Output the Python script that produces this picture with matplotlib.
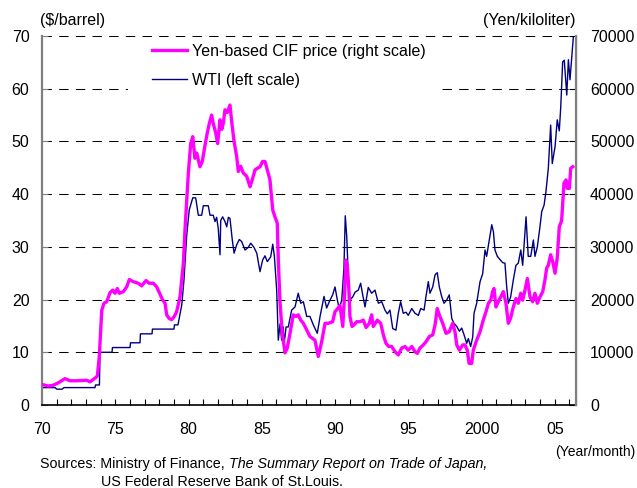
import numpy as np
import matplotlib.pyplot as plt
from matplotlib.patches import Rectangle

plt.rcParams['font.family'] = ['Liberation Sans', 'DejaVu Sans']

# WTI, $/barrel (left scale)
wti_t = [1970.0, 1970.89, 1971.02, 1971.37, 1971.5, 1973.62, 1973.65, 1973.92, 1973.96, 1974.78,
         1974.81, 1976.01, 1976.04, 1976.69, 1976.72, 1977.51, 1977.54, 1979.01, 1979.04, 1979.28,
         1979.54, 1979.69, 1979.88, 1980.05, 1980.29, 1980.49, 1980.67, 1980.9, 1981.01, 1981.35,
         1981.47, 1981.69, 1981.81, 1981.92, 1982.03, 1982.15, 1982.2, 1982.33, 1982.49, 1982.61,
         1982.72, 1982.83, 1982.99, 1983.11, 1983.29, 1983.47, 1983.63, 1983.86, 1984.08, 1984.25,
         1984.47, 1984.66, 1984.88, 1985.06, 1985.22, 1985.38, 1985.61, 1985.75, 1985.86, 1986.02,
         1986.13, 1986.25, 1986.36, 1986.47, 1986.52, 1986.66, 1986.81, 1987.04, 1987.27, 1987.49,
         1987.66, 1987.84, 1988.07, 1988.29, 1988.52, 1988.79, 1988.98, 1989.25, 1989.43, 1989.61,
         1989.84, 1990.0, 1990.16, 1990.29, 1990.46, 1990.61, 1990.7, 1990.8, 1990.91, 1991.02,
         1991.21, 1991.37, 1991.59, 1991.75, 1991.89, 1992.05, 1992.27, 1992.5, 1992.73, 1992.96,
         1993.19, 1993.41, 1993.57, 1993.75, 1993.94, 1994.16, 1994.32, 1994.48, 1994.66, 1994.85,
         1995.0, 1995.24, 1995.46, 1995.69, 1995.85, 1996.08, 1996.21, 1996.37, 1996.48, 1996.67,
         1996.83, 1996.98, 1997.12, 1997.28, 1997.44, 1997.62, 1997.8, 1997.97, 1998.12, 1998.31,
         1998.49, 1998.65, 1998.81, 1998.99, 1999.1, 1999.26, 1999.4, 1999.49, 1999.67, 1999.9,
         2000.08, 2000.24, 2000.35, 2000.53, 2000.7, 2000.81, 2000.92, 2001.08, 2001.26, 2001.45,
         2001.6, 2001.72, 2001.83, 2001.99, 2002.17, 2002.35, 2002.51, 2002.68, 2002.81, 2003.04,
         2003.19, 2003.36, 2003.54, 2003.65, 2003.81, 2003.99, 2004.11, 2004.27, 2004.4, 2004.56,
         2004.72, 2004.83, 2005.02, 2005.17, 2005.31, 2005.41, 2005.54, 2005.65, 2005.82, 2005.93,
         2006.04, 2006.16, 2006.27]
wti_v = [3.3, 3.3, 3.0, 3.0, 3.3, 3.3, 3.8, 3.8, 10.0, 10.0,
         10.9, 10.9, 11.8, 11.8, 13.5, 13.5, 14.4, 14.4, 15.2, 15.2,
         19.0, 23.7, 32.3, 37.0, 39.3, 39.3, 36.0, 36.0, 37.8, 37.8,
         36.0, 36.0, 34.8, 35.6, 33.5, 28.5, 35.0, 35.7, 34.8, 33.8,
         35.6, 35.4, 31.3, 28.8, 30.4, 31.4, 31.0, 29.4, 29.9, 30.7,
         29.9, 28.8, 25.3, 27.5, 28.3, 27.2, 28.1, 30.5, 28.3, 21.8,
         12.3, 15.4, 12.3, 14.8, 11.4, 14.8, 14.8, 18.0, 18.6, 21.2,
         19.3, 19.6, 16.8, 16.8, 15.2, 13.6, 16.8, 20.6, 18.4, 19.6,
         20.9, 22.4, 19.9, 18.3, 19.9, 25.9, 35.9, 32.0, 24.3, 19.9,
         20.5, 21.4, 21.8, 23.1, 20.9, 18.6, 22.3, 21.2, 21.8, 19.3,
         19.6, 18.0, 17.3, 18.0, 14.5, 14.2, 17.4, 19.6, 17.4, 17.6,
         17.0, 18.3, 17.4, 17.0, 18.3, 18.0, 20.6, 23.4, 21.2, 22.4,
         24.7, 25.1, 22.4, 20.6, 19.3, 19.9, 20.9, 16.4, 15.5, 14.9,
         14.0, 14.6, 13.3, 11.7, 12.6, 11.1, 12.9, 17.4, 19.3, 23.4,
         24.9, 29.4, 28.2, 31.3, 34.2, 32.9, 29.4, 28.2, 27.6, 27.0,
         26.9, 22.4, 19.3, 20.5, 23.7, 26.5, 26.9, 29.4, 26.5, 35.7,
         28.2, 28.2, 31.3, 28.2, 30.0, 33.8, 36.7, 37.9, 40.5, 44.9,
         53.1, 45.8, 49.0, 54.1, 52.0, 56.6, 65.1, 65.4, 58.8, 65.5,
         61.7, 66.1, 69.9]

# Yen-based CIF price, yen/kiloliter (right scale)
cif_t = [1970.0, 1970.43, 1970.77, 1971.11, 1971.34, 1971.57, 1971.91, 1972.37, 1973.05, 1973.28,
         1973.62, 1973.78, 1973.91, 1974.08, 1974.23, 1974.42, 1974.64, 1974.83, 1974.98, 1975.14,
         1975.28, 1975.55, 1975.78, 1975.96, 1976.23, 1976.57, 1976.8, 1977.1, 1977.32, 1977.6,
         1977.83, 1978.01, 1978.24, 1978.4, 1978.51, 1978.69, 1978.85, 1979.01, 1979.19, 1979.42,
         1979.65, 1979.76, 1979.99, 1980.15, 1980.29, 1980.44, 1980.56, 1980.78, 1980.94, 1981.13,
         1981.28, 1981.42, 1981.58, 1981.69, 1981.86, 1981.99, 1982.15, 1982.27, 1982.38, 1982.49,
         1982.65, 1982.83, 1982.95, 1983.11, 1983.29, 1983.4, 1983.56, 1983.74, 1983.97, 1984.2,
         1984.38, 1984.54, 1984.7, 1984.88, 1985.06, 1985.22, 1985.38, 1985.56, 1985.75, 1985.9,
         1986.06, 1986.13, 1986.25, 1986.4, 1986.59, 1986.74, 1986.93, 1987.15, 1987.34, 1987.49,
         1987.66, 1987.84, 1988.07, 1988.29, 1988.48, 1988.63, 1988.86, 1989.09, 1989.32, 1989.54,
         1989.84, 1990.0, 1990.16, 1990.34, 1990.53, 1990.64, 1990.75, 1990.84, 1990.94, 1991.02,
         1991.16, 1991.3, 1991.48, 1991.71, 1991.93, 1992.12, 1992.34, 1992.5, 1992.61, 1992.89,
         1993.12, 1993.3, 1993.48, 1993.67, 1993.87, 1994.1, 1994.32, 1994.55, 1994.78, 1995.0,
         1995.24, 1995.46, 1995.62, 1995.8, 1996.03, 1996.21, 1996.44, 1996.67, 1996.83, 1996.98,
         1997.12, 1997.35, 1997.58, 1997.8, 1998.03, 1998.19, 1998.31, 1998.49, 1998.72, 1998.87,
         1999.03, 1999.15, 1999.33, 1999.44, 1999.67, 1999.9, 2000.12, 2000.31, 2000.47, 2000.63,
         2000.76, 2000.85, 2000.99, 2001.15, 2001.31, 2001.49, 2001.67, 2001.83, 2001.99, 2002.17,
         2002.35, 2002.51, 2002.68, 2002.81, 2002.97, 2003.13, 2003.31, 2003.49, 2003.65, 2003.81,
         2003.99, 2004.18, 2004.33, 2004.45, 2004.56, 2004.72, 2004.86, 2005.02, 2005.17, 2005.31,
         2005.47, 2005.63, 2005.77, 2005.86, 2006.0, 2006.09, 2006.23]
cif_v = [3900, 3600, 3750, 4200, 4600, 5000, 4600, 4600, 4700, 4400,
         5100, 5500, 9200, 18000, 19300, 19600, 21300, 21800, 21200, 22100,
         21200, 21500, 22400, 23800, 23400, 23100, 22600, 23600, 23100, 23100,
         22400, 21300, 19900, 19300, 17100, 16400, 16200, 16700, 17700, 20500,
         26900, 33200, 44000, 49600, 50900, 46800, 47800, 45200, 46200, 49300,
         51600, 53400, 55000, 53400, 51600, 49600, 54100, 52300, 53500, 56000,
         55500, 56900, 53700, 50000, 47100, 44300, 45300, 44000, 43400, 41400,
         43000, 44600, 44900, 45200, 46200, 46200, 44600, 42700, 37000, 35700,
         34500, 27500, 19300, 13600, 9900, 10800, 13600, 17100, 16800, 17100,
         16100, 15500, 14200, 13000, 12600, 12300, 9200, 12000, 15500, 15500,
         15800, 17700, 18200, 18900, 14900, 20200, 27500, 26300, 22300, 16800,
         14900, 15200, 15800, 15800, 16100, 14700, 15500, 17100, 14900, 16100,
         15500, 13300, 11700, 11100, 11100, 10100, 9500, 10800, 11100, 10400,
         11100, 10100, 9800, 10800, 11400, 12000, 13000, 13300, 15200, 18300,
         17100, 15500, 13600, 13900, 15500, 13900, 11400, 10400, 11400, 11400,
         10400, 7900, 7900, 10400, 12300, 13900, 16100, 17700, 19300, 19900,
         21500, 22100, 18600, 19600, 20500, 21500, 19300, 15500, 16500, 18600,
         20200, 19300, 21200, 19900, 21800, 24000, 20500, 19600, 21200, 19300,
         20500, 21500, 23700, 26000, 26500, 28500, 27200, 25000, 27900, 33800,
         35000, 42100, 42700, 41100, 41100, 44900, 45200]

years = np.arange(1970, 2007)
year_labels = {1970: "70", 1975: "75", 1980: "80", 1985: "85", 1990: "90",
               1995: "95", 2000: "2000", 2005: "05"}

W, H = 637, 488
fig = plt.figure(figsize=(W / 100, H / 100), dpi=100)
ax = fig.add_axes([42 / W, (H - 405) / H, 534 / W, 369 / H])
ax2 = ax.twinx()

ax.plot(wti_t, wti_v, color="#000080", lw=1.0, label="WTI (left scale)")
ax2.plot(cif_t, cif_v, color="#FF00FF", lw=2.4, label="Yen-based CIF price (right scale)")

ax.set_xlim(1970, 2006.45)
ax.set_ylim(0, 70)
ax2.set_ylim(0, 70000)

ax.set_yticks(range(0, 71, 10))
ax2.set_yticks(range(0, 70001, 10000))
ax.set_xticks(years)
ax.set_xticklabels([year_labels.get(y, "") for y in years])

for y in range(10, 71, 10):
    ax.axhline(y, color="black", lw=0.75, dashes=(9, 7), zorder=0.5)

for a in (ax, ax2):
    a.spines["top"].set_visible(False)
ax.spines["left"].set_color("#808080")
ax.spines["left"].set_linewidth(1.6)
ax2.spines["right"].set_color("#808080")
ax2.spines["right"].set_linewidth(1.6)
ax.spines["bottom"].set_linewidth(1.2)
ax2.spines["left"].set_visible(False)
ax2.spines["bottom"].set_visible(False)

ax.tick_params(axis="x", direction="in", length=4, width=0.8, pad=12, labelsize=11.5)
ax.tick_params(axis="y", direction="in", length=4, width=0.8, color="#808080", pad=9, labelsize=11.5)
ax2.tick_params(axis="y", direction="in", length=5, width=0.8, color="black", pad=10, labelsize=11.5)

# white patch behind the legend hides the dashed gridline
ax.add_patch(Rectangle((128 / W, 1 - 100 / H), 312 / W, 60 / H, transform=fig.transFigure,
                       facecolor="white", edgecolor="none", zorder=3))

h2, l2 = ax2.get_legend_handles_labels()
h1, l1 = ax.get_legend_handles_labels()
ax2.legend(h2 + h1, l2 + l1, loc="upper left", bbox_to_anchor=(152 / W, 1 - 44 / H),
           bbox_transform=fig.transFigure, frameon=False, fontsize=11.5,
           handlelength=2.2, handletextpad=0.32, labelspacing=0.88,
           borderpad=0, borderaxespad=0)

fig.text(40 / W, 1 - 21 / H, "($/barrel)", fontsize=11.5, va="center", ha="left")
fig.text(575 / W, 1 - 21 / H, "(Yen/kiloliter)", fontsize=11.5, va="center", ha="right")
fig.text(635 / W, 1 - 452 / H, "(Year/month)", fontsize=10, va="center", ha="right")

t1 = fig.text(40 / W, 1 - 464 / H, "Sources: Ministry of Finance, ", fontsize=10.3, va="center", ha="left")
fig.canvas.draw()
bb = t1.get_window_extent()
fig.text(bb.x1 / W, 1 - 464 / H, "The Summary Report on Trade of Japan,", fontsize=10.3,
         va="center", ha="left", style="italic")
fig.text(101 / W, 1 - 482 / H, "US Federal Reserve Bank of St.Louis.", fontsize=10.3,
         va="center", ha="left")

fig.savefig("out.png", dpi=100)
